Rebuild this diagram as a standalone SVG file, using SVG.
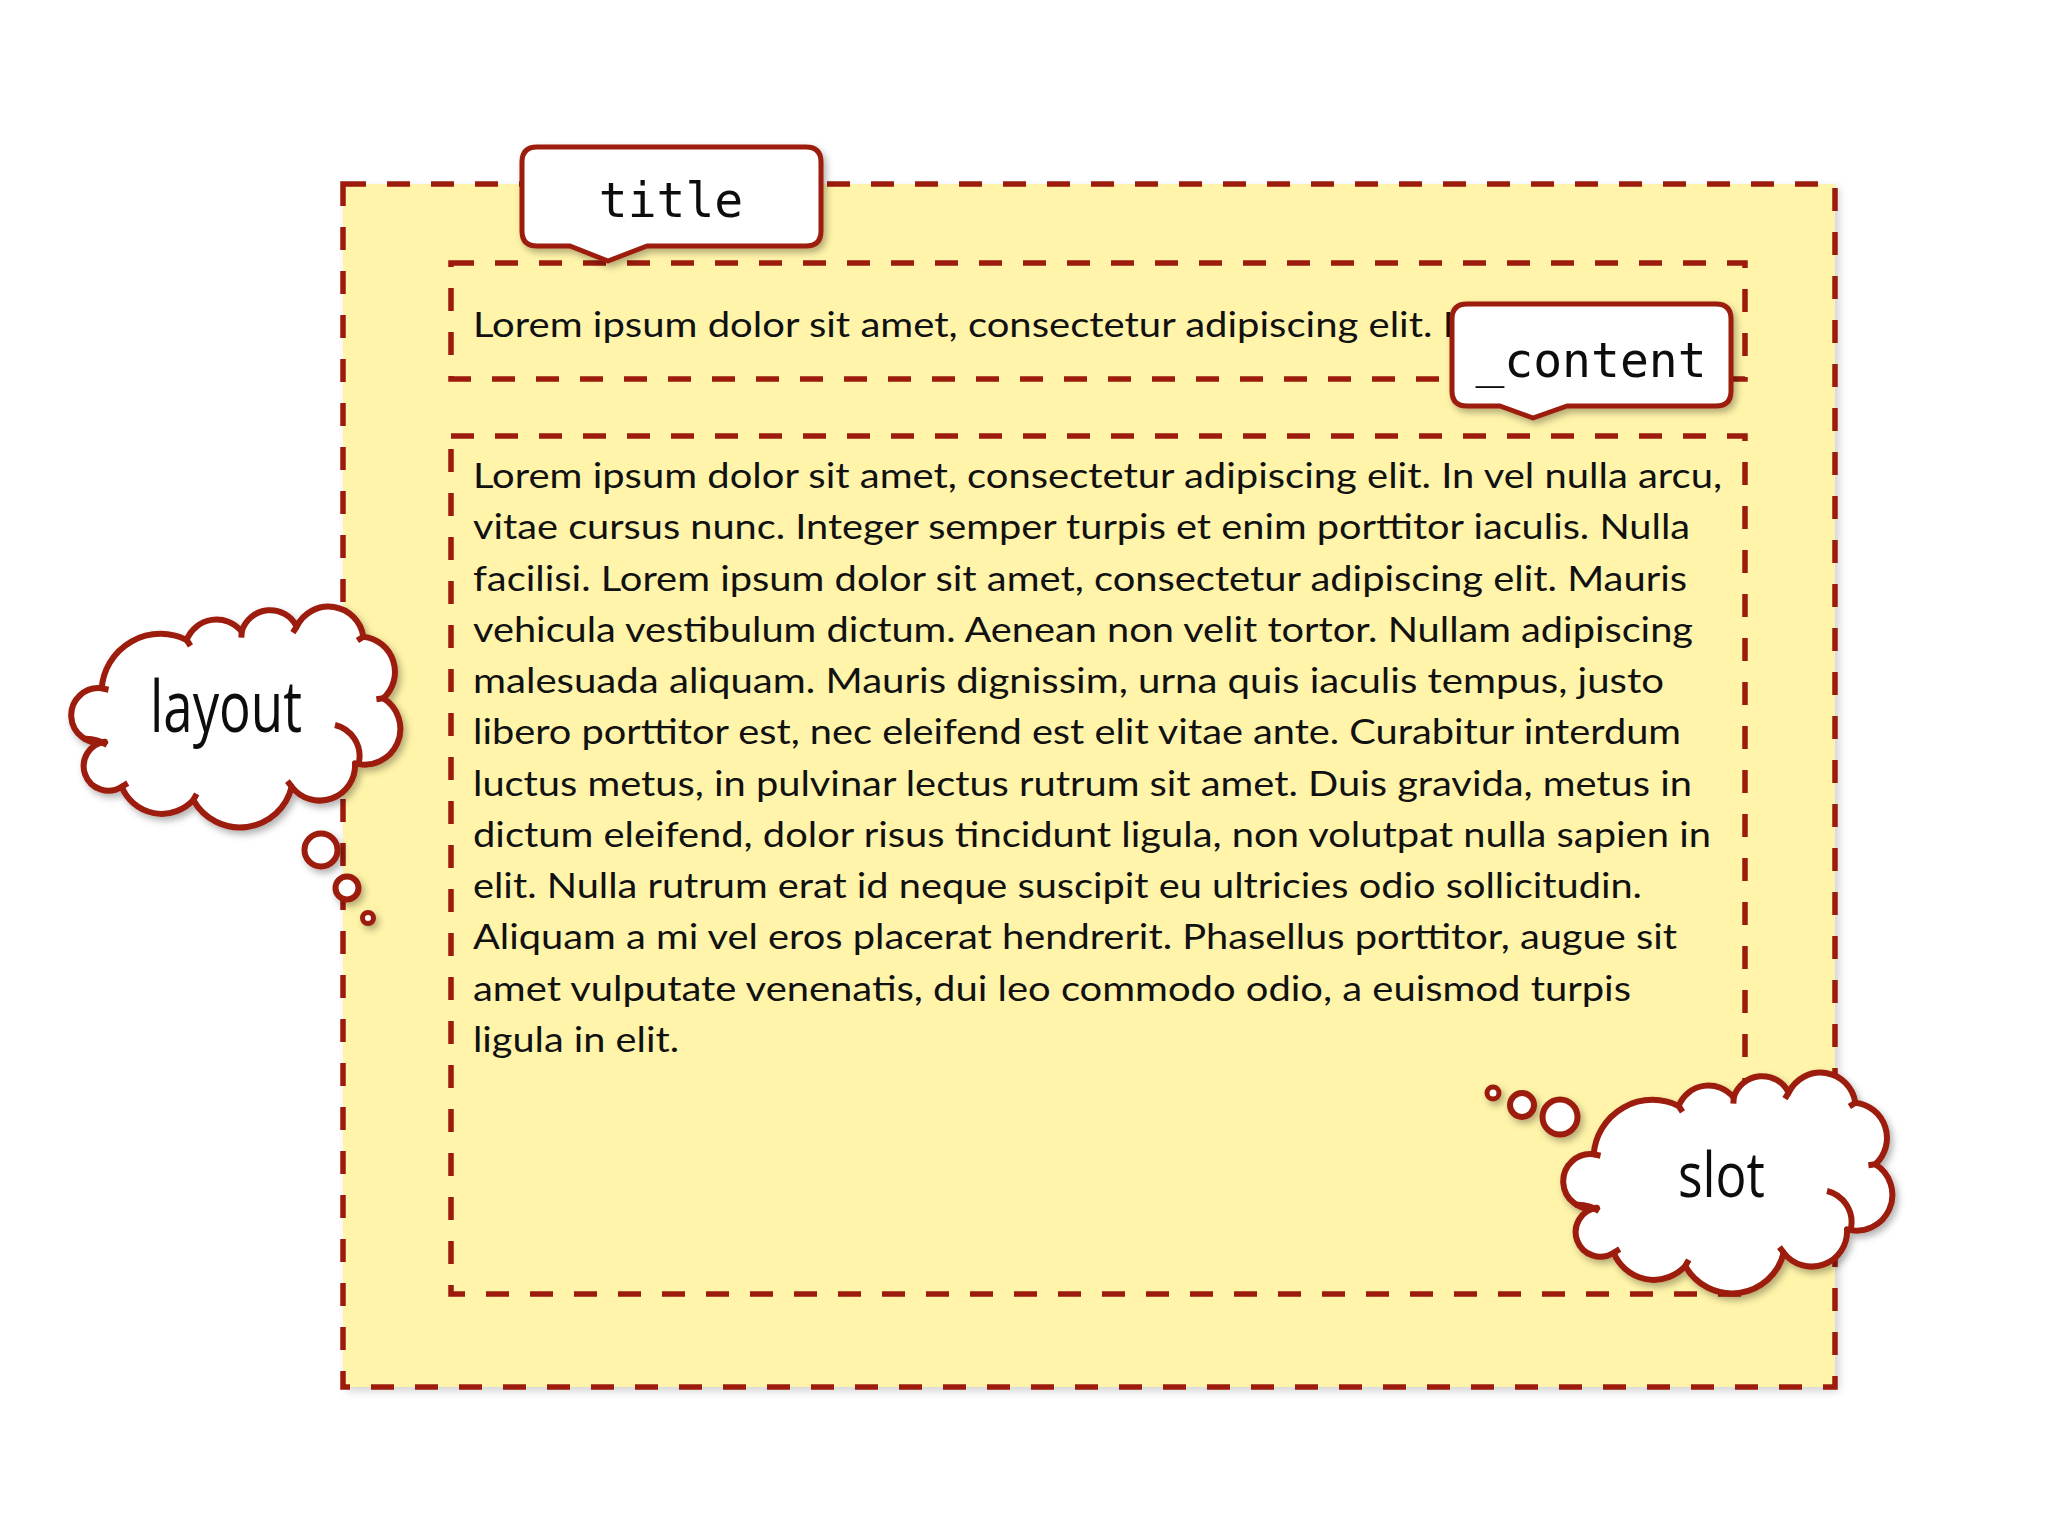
<svg xmlns="http://www.w3.org/2000/svg" xmlns:xlink="http://www.w3.org/1999/xlink" width="2048" height="1536" viewBox="0 0 2048 1536">
  <style>
    .dash { fill: none; stroke: #9c1b0c; stroke-width: 5.5; stroke-dasharray: 23 21; }
    .body { font-family: Lato, "Open Sans", "Liberation Sans", sans-serif; font-size: 34px; fill: #111; }
    .mono { font-family: "DejaVu Sans Mono", "Liberation Mono", monospace; font-size: 48px; fill: #111; text-anchor: middle; }
    .callout { fill: #fff; stroke: #9c1b0c; stroke-width: 5; stroke-linejoin: round; }
    .cloud { fill: #fff; stroke: #9c1b0c; stroke-width: 6; stroke-linejoin: round; }
    .cloudline { fill: none; stroke: #9c1b0c; stroke-width: 6; stroke-linecap: butt; }
    .bubble { fill: #fff; stroke: #9c1b0c; stroke-width: 6; }
    .think { font-family: "Open Sans", "Liberation Sans", sans-serif; font-size: 72px; font-weight: 500; fill: #111; text-anchor: start; }
  </style>
  <defs>
    <filter id="shadow" x="-10%" y="-10%" width="130%" height="140%">
      <feDropShadow dx="3" dy="4" stdDeviation="3.5" flood-color="#000" flood-opacity="0.3"/>
    </filter>
    <filter id="boxshadow" x="-5%" y="-5%" width="110%" height="110%">
      <feDropShadow dx="4" dy="4" stdDeviation="4" flood-color="#000" flood-opacity="0.18"/>
    </filter>
    <path id="cloudShape" d="M101.7,688.3 A27.2,27.2 0 1 0 105,741.7 A24.6,24.6 0 1 0 121.7,786.7 A43,43 0 0 0 193.3,800 A53.3,53.3 0 0 0 291.7,786.7 A35.3,35.3 0 0 0 355,763.3 A35.8,35.8 0 0 0 383.3,698.3 A35.5,35.5 0 0 0 363.3,636.7 A35.2,35.2 0 0 0 296.7,626.7 A29.6,29.6 0 0 0 241.7,631.7 A32,32 0 0 0 186.7,640 A59,59 0 0 0 101.7,688.3 Z"/>
    <path id="cloudInner" d="M335,725 A32,32 0 0 1 359,762 M83,739 Q96,738 107,745 M101.7,688.3 L108.5,689.8 M121.7,786.7 L127.7,783.1 M193.3,800 L196.7,793.9 M291.7,786.7 L287.4,781.2 M383.3,698.3 L376.4,699.2 M363.3,636.7 L357.4,640.5 M296.7,626.7 L292.9,632.6 M241.7,631.7 L241.4,637.7 M186.7,640 L190.5,645.8"/>
  </defs>

  <rect x="0" y="0" width="2048" height="1536" fill="#ffffff"/>

  <g id="layout-box">
    <rect x="343" y="184" width="1492" height="1203" fill="#fff4a9" filter="url(#boxshadow)"/>
    <rect x="343" y="184" width="1492" height="1203" class="dash"/>
  </g>

  <g id="title-box">
    <rect x="451" y="263" width="1294" height="116" class="dash"/>
    <text class="body" x="473" y="337" textLength="1003" lengthAdjust="spacingAndGlyphs">Lorem ipsum dolor sit amet, consectetur adipiscing elit. In</text>
  </g>

  <g id="content-box">
    <rect x="451" y="436" width="1294" height="858" class="dash"/>
    <text class="body" x="473" y="488" textLength="1249" lengthAdjust="spacingAndGlyphs">Lorem ipsum dolor sit amet, consectetur adipiscing elit. In vel nulla arcu,</text>
    <text class="body" x="473" y="539.25" textLength="1217" lengthAdjust="spacingAndGlyphs">vitae cursus nunc. Integer semper turpis et enim porttitor iaculis. Nulla</text>
    <text class="body" x="473" y="590.5" textLength="1214" lengthAdjust="spacingAndGlyphs">facilisi. Lorem ipsum dolor sit amet, consectetur adipiscing elit. Mauris</text>
    <text class="body" x="473" y="641.75" textLength="1220" lengthAdjust="spacingAndGlyphs">vehicula vestibulum dictum. Aenean non velit tortor. Nullam adipiscing</text>
    <text class="body" x="473" y="693" textLength="1191" lengthAdjust="spacingAndGlyphs">malesuada aliquam. Mauris dignissim, urna quis iaculis tempus, justo</text>
    <text class="body" x="473" y="744.25" textLength="1208" lengthAdjust="spacingAndGlyphs">libero porttitor est, nec eleifend est elit vitae ante. Curabitur interdum</text>
    <text class="body" x="473" y="795.5" textLength="1219" lengthAdjust="spacingAndGlyphs">luctus metus, in pulvinar lectus rutrum sit amet. Duis gravida, metus in</text>
    <text class="body" x="473" y="846.75" textLength="1238" lengthAdjust="spacingAndGlyphs">dictum eleifend, dolor risus tincidunt ligula, non volutpat nulla sapien in</text>
    <text class="body" x="473" y="898" textLength="1169" lengthAdjust="spacingAndGlyphs">elit. Nulla rutrum erat id neque suscipit eu ultricies odio sollicitudin.</text>
    <text class="body" x="473" y="949.25" textLength="1204" lengthAdjust="spacingAndGlyphs">Aliquam a mi vel eros placerat hendrerit. Phasellus porttitor, augue sit</text>
    <text class="body" x="473" y="1000.5" textLength="1158" lengthAdjust="spacingAndGlyphs">amet vulputate venenatis, dui leo commodo odio, a euismod turpis</text>
    <text class="body" x="473" y="1051.75" textLength="206" lengthAdjust="spacingAndGlyphs">ligula in elit.</text>
  </g>

  <g id="title-callout" filter="url(#shadow)">
    <path class="callout" d="M537,147 H806 Q821,147 821,162 V231 Q821,246 806,246 H647 L608,261 L570,246 H537 Q522,246 522,231 V162 Q522,147 537,147 Z"/>
    <text class="mono" x="671" y="217">title</text>
  </g>

  <g id="content-callout" filter="url(#shadow)">
    <path class="callout" d="M1467,304 H1716 Q1731,304 1731,319 V391 Q1731,406 1716,406 H1567 L1533,418 L1500,406 H1467 Q1452,406 1452,391 V319 Q1452,304 1467,304 Z"/>
    <text class="mono" x="1591" y="377">_content</text>
  </g>

  <g id="layout-cloud" filter="url(#shadow)">
    <use xlink:href="#cloudShape" href="#cloudShape" class="cloud"/>
    <use xlink:href="#cloudInner" href="#cloudInner" class="cloudline"/>
    <circle class="bubble" cx="321" cy="850" r="16.5"/>
    <circle class="bubble" cx="347" cy="888" r="11.5"/>
    <circle class="bubble" cx="368" cy="918" r="5.5" style="stroke-width:5"/>
    <text class="think" x="150" y="732" textLength="152" lengthAdjust="spacingAndGlyphs">layout</text>
  </g>

  <g id="slot-cloud" filter="url(#shadow)">
    <g transform="translate(1492,466)">
      <use xlink:href="#cloudShape" href="#cloudShape" class="cloud"/>
      <use xlink:href="#cloudInner" href="#cloudInner" class="cloudline"/>
    </g>
    <circle class="bubble" cx="1560" cy="1117" r="17.5"/>
    <circle class="bubble" cx="1522" cy="1105" r="12"/>
    <circle class="bubble" cx="1493" cy="1093" r="6" style="stroke-width:5"/>
    <text class="think" x="1678" y="1197" style="font-size:62px" textLength="87" lengthAdjust="spacingAndGlyphs">slot</text>
  </g>
</svg>
